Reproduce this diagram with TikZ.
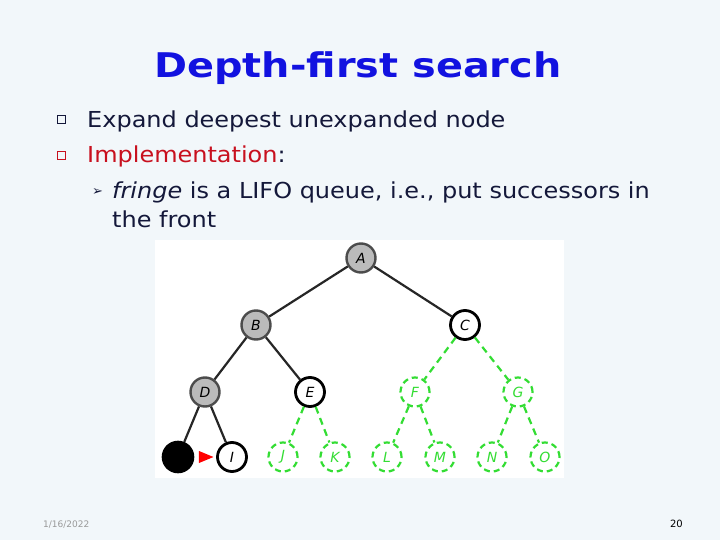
\documentclass[tikz,border=0pt]{standalone}
\usepackage{fontspec}
\setmainfont{DejaVu Sans}
\usetikzlibrary{shapes.geometric}
\definecolor{bg}{HTML}{F2F7FA}
\definecolor{txt}{HTML}{14183A}
\definecolor{ttl}{HTML}{1212E0}
\definecolor{redt}{HTML}{C8101E}
\definecolor{grn}{HTML}{33DD33}
\definecolor{gfill}{HTML}{BBBBBB}
\newfontfamily\bodyfont[FakeStretch=1.09]{DejaVu Sans}
\newfontfamily\titlefont[FakeStretch=1.17]{DejaVu Sans Bold}
\tikzset{
  tn/.style={circle, minimum size=29pt, inner sep=0pt, font=\fontsize{14}{14}\selectfont\itshape},
  expd/.style={tn, draw=black!70, line width=2.4pt, fill=gfill},
  front/.style={tn, draw=black, line width=2.8pt, fill=white},
  unseen/.style={tn, draw=grn, dash pattern=on 6pt off 4pt, line width=2.2pt, text=grn, fill=white},
  solidedge/.style={draw=black!85, line width=2.2pt},
  dashedge/.style={draw=grn, dash pattern=on 7pt off 5pt, line width=2.2pt},
  body/.style={anchor=base west, text=txt, font=\bodyfont\fontsize{22}{22}\selectfont, inner sep=0pt},
  sqbul/.style={draw=#1, line width=1pt, minimum size=8pt, inner sep=0pt}
}
\begin{document}
\begin{tikzpicture}[x=1pt,y=-1pt]
\fill[bg] (0,0) rectangle (720,540);
\useasboundingbox (0,0) rectangle (720,540);
% title
\node[anchor=base, text=ttl, font=\titlefont\fontsize{34}{34}\selectfont, inner sep=0pt] (title) at (358,78) {Depth-first search};
% bullets
\node[sqbul=txt] (b1) at (61,120) {};
\node[sqbul=redt] (b2) at (61,156) {};
\node[body] (t1) at (87,128) {Expand deepest unexpanded node};
\node[body] (t2) at (87,163) {\textcolor{redt}{Implementation}:};
\node[body, font=\fontsize{13}{13}\selectfont] (b3) at (92,196) {➢};
\node[body] (t3) at (112,199) {\textit{fringe} is a LIFO queue, i.e., put successors in};
\node[body] (t4) at (112,227) {the front};
% image area
\fill[white] (155,240) rectangle (564,478);
% edges (drawn first, nodes cover them)
\coordinate (dummy) at (0,0);
% tree nodes
\node[expd] (A) at (361,258) {A};
\node[expd] (B) at (256,325) {B};
\node[front] (C) at (465,325) {C};
\node[expd] (D) at (205,392) {D};
\node[front] (E) at (310,392) {E};
\node[unseen] (F) at (415,392) {F};
\node[unseen] (G) at (518,392) {G};
\node[tn, fill=black, draw=black, line width=1.6pt, minimum size=31pt] (H) at (178,457) {};
\node[front] (I) at (232,457) {I};
\node[unseen] (J) at (283,457) {J};
\node[unseen] (K) at (335,457) {K};
\node[unseen] (L) at (387,457) {L};
\node[unseen] (M) at (440,457) {M};
\node[unseen] (N) at (492,457) {N};
\node[unseen] (O) at (545,457) {O};
% edges
\draw[solidedge] (A) -- (B);
\draw[solidedge] (A) -- (C);
\draw[solidedge] (B) -- (D);
\draw[solidedge] (B) -- (E);
\draw[solidedge] (D) -- (H);
\draw[solidedge] (D) -- (I);
\draw[dashedge] (C) -- (F);
\draw[dashedge] (C) -- (G);
\draw[dashedge] (E) -- (J);
\draw[dashedge] (E) -- (K);
\draw[dashedge] (F) -- (L);
\draw[dashedge] (F) -- (M);
\draw[dashedge] (G) -- (N);
\draw[dashedge] (G) -- (O);
% red marker
\node[isosceles triangle, fill=red, inner sep=0pt, minimum height=9pt, minimum width=12pt] (ptr) at (203,457) {};
% footer
\node[anchor=base west, text=black!40, font=\fontsize{9}{9}\selectfont, inner sep=0pt] (date) at (43,527) {1/16/2022};
\node[anchor=base east, text=black, font=\fontsize{10}{10}\selectfont, inner sep=0pt] (pg) at (683,527) {20};
\end{tikzpicture}
\end{document}
